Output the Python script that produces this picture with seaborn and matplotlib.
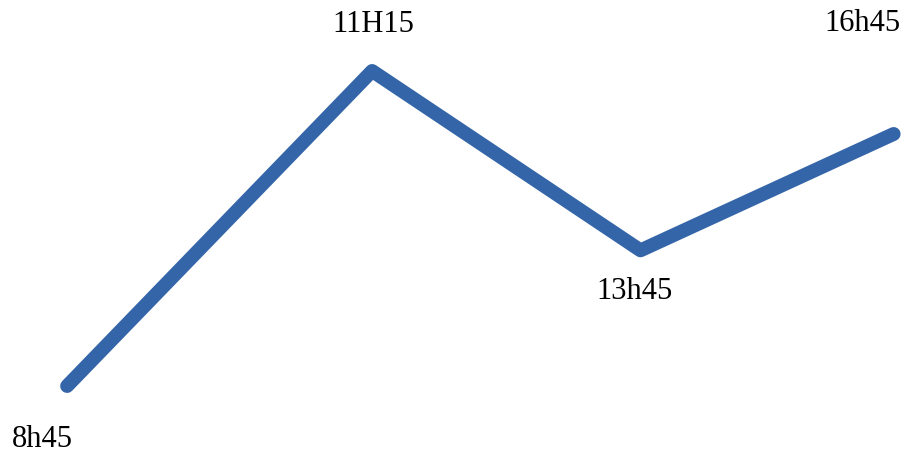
import matplotlib
matplotlib.use("Agg")
import matplotlib.pyplot as plt
import seaborn as sns
import pandas as pd

# values
times = ["8h45", "11H15", "13h45", "16h45"]
x_pos = [1.0, 2.0, 2.88, 3.71]
values = [12.0, 48.0, 27.5, 40.8]

# label offsets (pixels) from each point
label_dx = [-25, 1, -6, -31]
label_dy = [-54, 46, -41, 110]

df = pd.DataFrame({"x": x_pos, "y": values, "label": times})

sns.set_theme(style="white")
plt.rcParams["font.family"] = ["Liberation Serif", "DejaVu Serif"]

fig = plt.figure(figsize=(9.08, 4.57), dpi=100)
ax = fig.add_axes([0, 0, 1, 1])

sns.lineplot(data=df, x="x", y="y", ax=ax, color="#3465A8", linewidth=10,
             solid_capstyle="round", solid_joinstyle="round", sort=False)

for i, row in df.iterrows():
    ax.annotate(row["label"], (row["x"], row["y"]),
                xytext=(label_dx[i], label_dy[i]), textcoords="offset pixels",
                ha="center", va="center", fontsize=22, color="black")

ax.set_xlim(0.78, 3.757)
ax.set_ylim(3.886, 56.11)
ax.axis("off")

fig.savefig("out.png", dpi=100)
plt.close(fig)
